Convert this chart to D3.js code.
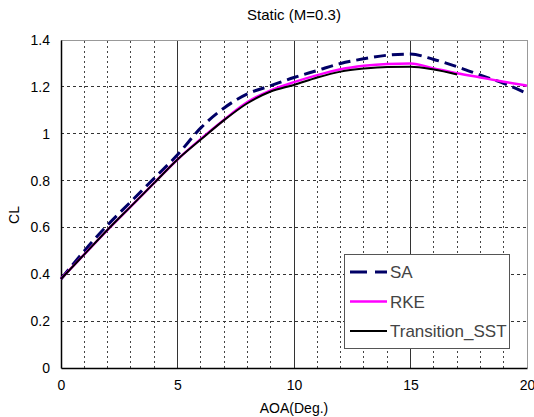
<!DOCTYPE html>
<html><head><meta charset="utf-8">
<script src="https://cdn.jsdelivr.net/npm/d3@7"></script>
<style>body{margin:0;background:#fff}svg{display:block}text{font-family:"Liberation Sans",Arial,sans-serif}</style>
</head><body><svg id="c" width="534" height="417"></svg>
<script>
const aoaSA = [0,1,2,3,4,5,6,7,8,9,10,11,12,13,14,15,16,17,18,19,20];
const clSA  = [0.38,0.50,0.61,0.71,0.81,0.91,1.025,1.11,1.17,1.205,1.24,1.27,1.30,1.32,1.335,1.34,1.317,1.286,1.25,1.215,1.172];
const aoaRKE = [0,1,2,3,4,5,6,7,8,9,10,11,12,13,14,15,16,17,18,19,20];
const clRKE  = [0.38,0.485,0.59,0.69,0.79,0.89,0.978,1.06,1.135,1.185,1.22,1.25,1.275,1.29,1.298,1.30,1.279,1.258,1.24,1.222,1.205];
const aoaSST = [0,1,2,3,4,5,6,7,8,9,10,11,12,13,14,15,16,17];
const clSST  = [0.38,0.485,0.59,0.69,0.79,0.89,0.975,1.058,1.13,1.18,1.208,1.24,1.265,1.278,1.285,1.286,1.274,1.253];
const xTicks = [0,5,10,15,20];
const yTicks = [0,0.2,0.4,0.6,0.8,1,1.2,1.4];
const seriesNames = ["SA","RKE","Transition_SST"];

const svg = d3.select("#c");
const x = d3.scaleLinear().domain([0,20]).range([61,527]);
const y = d3.scaleLinear().domain([0,1.4]).range([368,40]);

// gridlines
const g = svg.append("g");
d3.range(1,20).forEach(v=>{
  const solid = v%5===0;
  g.append("line").attr("x1",x(v)).attr("x2",x(v)).attr("y1",y(0)).attr("y2",y(1.4))
   .attr("stroke", solid?"#333":"#444").attr("stroke-width",1)
   .attr("stroke-dasharray", solid?null:"2,3").attr("shape-rendering","crispEdges");
});
yTicks.slice(1,-1).forEach(v=>{
  g.append("line").attr("x1",x(0)).attr("x2",x(20)).attr("y1",y(v)).attr("y2",y(v))
   .attr("stroke","#333").attr("stroke-width",1).attr("stroke-dasharray","3,3").attr("shape-rendering","crispEdges");
});
// frame
svg.append("line").attr("x1",x(0)).attr("x2",x(20)).attr("y1",y(1.4)).attr("y2",y(1.4)).attr("stroke","#999").attr("shape-rendering","crispEdges");
svg.append("line").attr("x1",x(20)).attr("x2",x(20)).attr("y1",y(0)).attr("y2",y(1.4)).attr("stroke","#999").attr("shape-rendering","crispEdges");

// axes
const xAxis = d3.axisBottom(x).tickValues(xTicks).tickSize(0).tickPadding(12).tickFormat(d3.format("d"));
const yAxis = d3.axisLeft(y).tickValues(yTicks).tickSize(0).tickPadding(11).tickFormat(d=>d===0?"0":(d===1?"1":d3.format(".1f")(d)));
const gx = svg.append("g").attr("transform",`translate(0,${y(0)})`).call(xAxis);
const gy = svg.append("g").attr("transform",`translate(${x(0)},0)`).call(yAxis);
[gx,gy].forEach(a=>{a.select(".domain").attr("stroke","#000").attr("stroke-width",1.5);
  a.selectAll("text").attr("font-size",14).attr("fill","#000");});

svg.append("text").attr("x",294).attr("y",20).attr("text-anchor","middle").attr("font-size",15).text("Static (M=0.3)");
svg.append("text").attr("x",294).attr("y",413).attr("text-anchor","middle").attr("font-size",14).text("AOA(Deg.)");
svg.append("text").attr("transform","translate(19,215) rotate(-90)").attr("text-anchor","middle").attr("font-size",14).text("CL");

const line = d3.line().x(d=>x(d[0])).y(d=>y(d[1])).curve(d3.curveMonotoneX);
const styles = [
  {c:"#000066",w:3,dash:"12,6"},
  {c:"#ff00ff",w:2.5,dash:null},
  {c:"#000000",w:2,dash:null}
];
const data = [d3.zip(aoaSA,clSA), d3.zip(aoaRKE,clRKE), d3.zip(aoaSST,clSST)];
data.forEach((d,i)=>{
  svg.append("path").datum(d).attr("d",line).attr("fill","none")
    .attr("stroke",styles[i].c).attr("stroke-width",styles[i].w)
    .attr("stroke-dasharray",styles[i].dash);
});

// legend
const lg = svg.append("g");
lg.append("rect").attr("x",344.5).attr("y",254.5).attr("width",165).attr("height",94)
  .attr("fill","#fff").attr("stroke","#555").attr("stroke-width",1);
seriesNames.forEach((n,i)=>{
  const yy = 272 + i*29.5;
  lg.append("line").attr("x1",350).attr("x2",387).attr("y1",yy).attr("y2",yy)
    .attr("stroke",styles[i].c).attr("stroke-width",styles[i].w).attr("stroke-dasharray",i===0?"17,8":null);
  lg.append("text").attr("x",390).attr("y",yy+6).attr("font-size",17).attr("fill","#444").text(n);
});
</script></body></html>
